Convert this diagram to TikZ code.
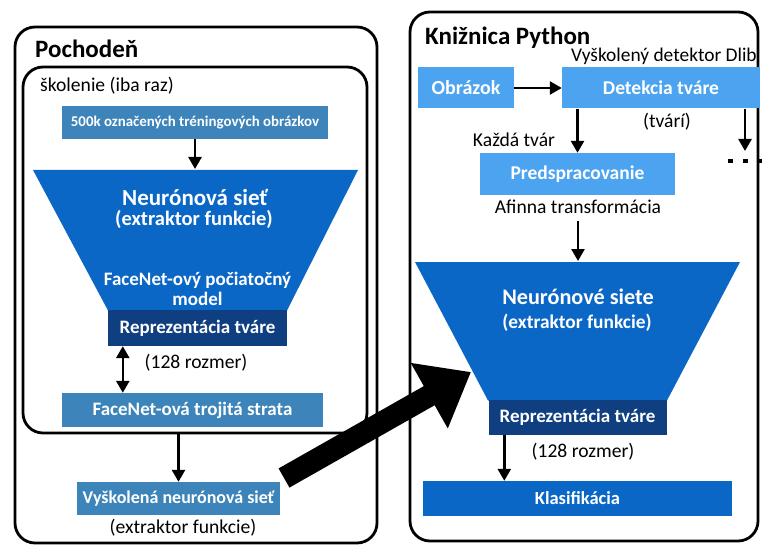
\documentclass[tikz,border=0pt]{standalone}
\usepackage{fontspec}
\setmainfont{Carlito}
\usepackage{tikz}
\usetikzlibrary{calc,positioning,arrows.meta}

\definecolor{steelblu}{RGB}{60,132,186}
\definecolor{midblu}{RGB}{11,103,198}
\definecolor{darkblu}{RGB}{15,63,128}
\definecolor{lightblu}{RGB}{76,164,240}

\begin{document}
\begin{tikzpicture}[
                x=1pt, y=-1pt,
                frame/.style={draw, line width=2.8pt, rounded corners=20pt, inner sep=0pt},
                box/.style={inner sep=0pt, text=white, font=\bfseries\fontsize{19}{21}\selectfont},
                steelbox/.style={box, fill=steelblu},
                midbox/.style={box, fill=midblu},
                darkbox/.style={box, fill=darkblu},
                lightbox/.style={box, fill=lightblu, font=\bfseries\fontsize{19.5}{21}\selectfont},
                lbl/.style={inner sep=0pt, font=\fontsize{19.6}{21}\selectfont},
                ttl/.style={inner sep=0pt, font=\bfseries\fontsize{25}{27}\selectfont},
                arr/.style={-{Triangle[length=12pt,width=13pt]}, line width=2.6pt},
                darr/.style={{Triangle[length=12pt,width=13pt]}-{Triangle[length=12pt,width=13pt]}, line width=2.6pt}
            ]
                \useasboundingbox (0,0) rectangle (762,545);
                % ramce
                \node[frame, minimum width=362pt, minimum height=516pt] (poch) at (196,285) {};
                \node[frame, minimum width=344pt, minimum height=366pt] (skol) at (195,250) {};
                \node[frame, minimum width=348pt, minimum height=529pt] (kniz) at (584,276.5) {};
                \node[ttl, anchor=base west] (pochttl) at (35,58) {Pochodeň};
                \node[lbl, anchor=base west] (skolttl) at (40,92) {školenie (iba raz)};
                \node[ttl, anchor=base west] (kniztl) at (425,45) {Knižnica Python};
                \node[lbl, anchor=base west, font=\fontsize{19.4}{21}\selectfont] (dlib) at (571,62) {Vyškolený detektor Dlib};

                % lava strana
                \node[steelbox, minimum width=266pt, minimum height=33pt, font=\bfseries\fontsize{14.9}{16}\selectfont] (obr500) at (195,122.5) {500k označených tréningových obrázkov};
                \fill[midblu] (33,170) -- (358,170) -- (287,310.5) -- (108,310.5) -- cycle;
                \coordinate (f1top) at (195,169);
                \node[box, font=\bfseries\fontsize{23}{25}\selectfont] (nn1) at (195,198) {Neurónová sieť};
                \node[box, font=\bfseries\fontsize{20.5}{22}\selectfont] (ext1) at (194,219) {(extraktor funkcie)};
                \node[box, font=\bfseries\fontsize{19}{21}\selectfont, align=center] (fnm) at (197.5,288.5) {FaceNet-ový počiatočný\\[-1pt]model};
                \node[darkbox, minimum width=179pt, minimum height=36pt] (rep1) at (197.5,328) {Reprezentácia tváre};
                \node[lbl] (r128a) at (196,363) {(128 rozmer)};
                \node[steelbox, minimum width=261pt, minimum height=34pt] (trip) at (192.5,410) {FaceNet-ová trojitá strata};
                \node[steelbox, minimum width=203pt, minimum height=33pt, font=\bfseries\fontsize{18}{20}\selectfont] (vnn) at (178.5,498.5) {Vyškolená neurónová sieť};
                \node[lbl] (ext2) at (183,528) {(extraktor funkcie)};

                \draw[arr] (obr500.south -| f1top) -- (f1top);
                \coordinate (d1) at ([xshift=15pt]rep1.south west);
                \draw[darr] (d1) -- (d1 |- trip.north);
                \draw[arr] (vnn.north |- skol.south) -- (vnn.north);

                % prava strana
                \node[lightbox, minimum width=96pt, minimum height=41pt, font=\bfseries\fontsize{20}{22}\selectfont] (obr) at (466,88) {Obrázok};
                \node[lightbox, minimum width=198pt, minimum height=41pt] (det) at (661,88) {Detekcia tváre};
                \node[lbl] (tvari) at (667,122) {(tvárí)};
                \node[lbl] (kazda) at (514,140) {Každá tvár};
                \node[lightbox, minimum width=195pt, minimum height=42pt] (pred) at (577.5,174) {Predspracovanie};
                \node[lbl] (afin) at (578,207) {Afinna transformácia};
                \coordinate (more) at (745,151);
                \foreach \i in {0,1,2}
                    \fill (728+15*\i,159) rectangle +(4.5,4.5);

                \fill[midblu] (415,262) -- (740,262) -- (667,400.5) -- (488,400.5) -- cycle;
                \coordinate (f2top) at (578,261);
                \node[box, font=\bfseries\fontsize{22.2}{24}\selectfont] (nn2) at (578,297) {Neurónové siete};
                \node[box, font=\bfseries\fontsize{19.4}{21}\selectfont] (ext3) at (577,323) {(extraktor funkcie)};
                \node[darkbox, minimum width=178pt, minimum height=35pt] (rep2) at (577.5,417.5) {Reprezentácia tváre};
                \node[lbl] (r128b) at (583,452) {(128 rozmer)};
                \node[midbox, minimum width=309pt, minimum height=35pt, font=\bfseries\fontsize{18.5}{20}\selectfont] (klas) at (577.5,498.5) {Klasifikácia};

                \draw[arr] (obr) -- (det);
                \draw[arr] (pred.north |- det.south) -- (pred.north);
                \draw[arr] (det.south -| more) -- (more);
                \draw[arr] ([yshift=-7pt]afin.south) -- (f2top);
                \coordinate (d2) at ([xshift=16pt]rep2.south west);
                \draw[arr] (d2) -- (d2 |- klas.north);

                % hrube spojenie
                \coordinate (bigs) at (284,478);
                \coordinate (bige) at (471,372);
                \draw[line width=22pt, -{Triangle[length=48pt,width=72pt]}] (bigs) -- (bige);
            \end{tikzpicture}
\end{document}
